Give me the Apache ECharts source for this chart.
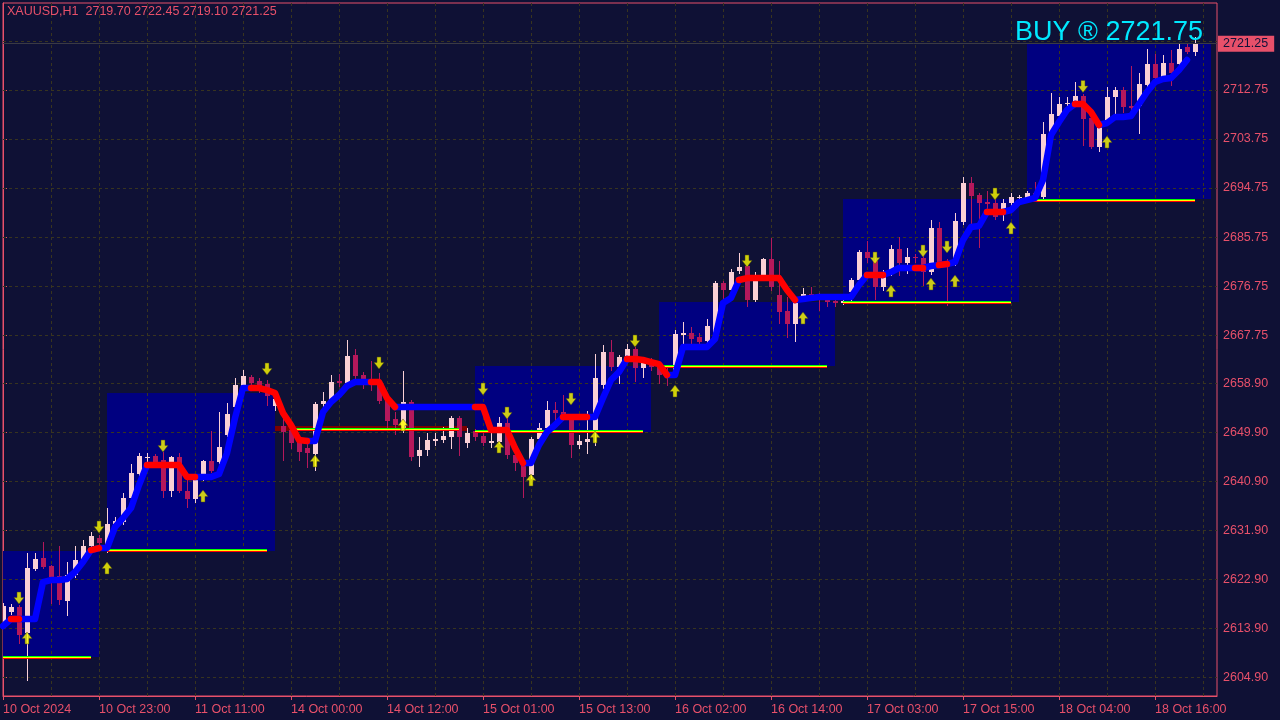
<!DOCTYPE html>
<html><head><meta charset="utf-8">
<script src="https://cdn.jsdelivr.net/npm/echarts@6.0.0/dist/echarts.min.js"></script>
<style>html,body{margin:0;padding:0;background:#0f1135;}#c{width:1280px;height:720px;}</style>
</head><body><div id="c"></div><script>
// ---- data ----
const opens = [2615.26,2616.92,2617.83,2613.06,2624.80,2626.82,2625.35,2623.53,2618.94,2623.71,2626.46,2629.03,2630.50,2628.29,2633.07,2633.43,2637.84,2642.24,2645.18,2645.55,2644.82,2639.12,2645.37,2639.12,2637.65,2641.70,2644.63,2644.45,2649.41,2654.54,2658.22,2660.06,2659.32,2658.77,2654.73,2651.06,2650.33,2648.12,2647.02,2645.92,2655.10,2655.46,2659.32,2658.96,2664.10,2660.43,2659.51,2658.59,2655.83,2652.34,2650.33,2655.46,2645.55,2646.65,2648.31,2648.49,2649.04,2652.53,2647.94,2650.14,2649.22,2647.94,2648.12,2651.61,2645.73,2644.27,2642.06,2648.67,2650.69,2654.00,2653.63,2652.71,2647.57,2648.12,2650.14,2658.59,2664.65,2661.89,2663.73,2665.20,2661.71,2663.18,2662.26,2660.98,2660.98,2667.77,2668.13,2667.40,2666.67,2667.58,2677.31,2676.03,2679.52,2680.44,2674.19,2678.60,2681.72,2675.11,2672.17,2669.79,2674.74,2675.29,2675.11,2674.19,2674.01,2673.64,2675.66,2677.87,2683.01,2681.35,2676.58,2679.15,2683.56,2680.99,2682.09,2681.91,2679.33,2687.41,2681.35,2681.17,2688.51,2695.67,2693.47,2692.18,2692.00,2690.72,2692.00,2692.92,2692.92,2693.84,2693.10,2704.48,2707.98,2710.18,2710.18,2711.65,2707.61,2702.29,2706.69,2711.46,2712.75,2709.81,2709.81,2713.67,2717.52,2715.13,2717.70,2717.52,2720.64,2719.70];
const highs = [2618.57,2618.39,2618.20,2627.74,2627.74,2629.76,2625.54,2629.03,2626.09,2629.03,2630.13,2631.60,2631.05,2636.00,2634.35,2638.75,2644.08,2646.10,2646.10,2645.92,2646.29,2645.55,2646.10,2641.15,2641.88,2644.82,2650.14,2653.63,2655.28,2659.87,2661.34,2660.43,2659.87,2659.51,2656.75,2652.53,2650.69,2649.22,2647.94,2655.46,2657.30,2660.43,2660.61,2666.85,2665.20,2660.98,2662.99,2660.79,2656.75,2653.63,2661.16,2655.83,2649.04,2649.78,2649.78,2650.88,2652.90,2652.90,2650.69,2650.51,2649.78,2649.78,2652.71,2652.71,2646.65,2644.63,2649.04,2651.61,2655.65,2655.46,2656.75,2653.08,2649.41,2653.81,2664.28,2665.93,2666.85,2664.10,2666.12,2665.56,2663.18,2663.54,2662.81,2661.71,2668.69,2670.15,2669.24,2668.13,2670.70,2677.68,2677.68,2679.88,2682.82,2680.62,2679.33,2681.91,2685.58,2681.35,2674.74,2674.56,2676.40,2676.58,2675.48,2674.56,2674.38,2674.38,2678.23,2683.37,2685.03,2681.91,2679.70,2684.29,2685.76,2683.74,2682.64,2682.27,2688.88,2688.51,2681.72,2690.17,2696.77,2696.77,2693.84,2694.20,2692.73,2692.73,2693.84,2693.47,2694.20,2695.86,2706.87,2712.20,2711.46,2711.46,2714.22,2712.01,2707.79,2706.87,2713.30,2713.30,2713.30,2717.15,2715.87,2720.27,2719.36,2719.17,2720.09,2721.38,2721.19,2722.45];
const lows = [2614.53,2616.55,2611.23,2604.43,2624.62,2624.99,2618.57,2618.39,2616.37,2623.34,2626.09,2628.66,2628.48,2627.92,2631.97,2633.07,2637.65,2641.88,2644.27,2644.27,2638.02,2638.20,2638.94,2636.19,2637.10,2641.15,2642.61,2644.27,2649.22,2654.00,2657.85,2658.41,2657.30,2654.91,2654.00,2644.82,2647.02,2644.82,2643.53,2642.98,2654.73,2655.10,2658.41,2658.59,2659.87,2658.04,2657.67,2655.28,2650.33,2649.59,2649.96,2644.82,2643.71,2645.73,2647.57,2648.12,2647.02,2645.73,2647.20,2648.49,2647.57,2647.20,2647.94,2645.18,2642.98,2638.02,2641.51,2648.31,2650.33,2652.16,2652.16,2645.37,2647.02,2646.10,2647.57,2658.04,2661.34,2658.96,2663.18,2659.32,2660.06,2661.34,2658.96,2658.59,2660.61,2665.93,2665.93,2666.12,2666.30,2667.22,2673.83,2675.66,2679.15,2673.09,2674.01,2678.23,2676.03,2669.97,2667.40,2666.67,2674.19,2674.19,2672.36,2673.09,2673.09,2673.46,2674.19,2677.50,2681.17,2674.38,2676.03,2678.78,2678.78,2679.15,2681.17,2676.95,2678.97,2680.44,2673.27,2680.62,2688.15,2687.96,2683.92,2690.35,2689.06,2688.88,2691.63,2692.55,2692.74,2692.74,2692.74,2704.30,2707.61,2709.44,2709.81,2702.65,2702.10,2701.55,2706.32,2708.34,2708.71,2709.08,2704.85,2713.48,2714.58,2714.77,2713.67,2717.15,2719.54,2719.10];
const closes = [2618.02,2617.83,2612.69,2624.99,2626.64,2625.17,2623.34,2619.12,2623.71,2626.46,2629.03,2630.87,2629.58,2633.07,2633.62,2637.84,2642.43,2645.55,2645.37,2644.45,2639.12,2645.37,2639.12,2637.65,2641.51,2644.63,2642.80,2647.20,2653.26,2658.59,2660.24,2658.96,2658.04,2656.56,2656.01,2649.96,2647.94,2646.29,2646.10,2655.10,2655.65,2659.14,2658.96,2663.92,2660.24,2658.96,2658.59,2655.65,2651.97,2651.24,2655.46,2645.37,2646.65,2648.49,2648.67,2649.22,2652.53,2649.04,2649.78,2649.04,2647.94,2648.31,2651.61,2645.73,2644.27,2641.70,2648.67,2650.69,2654.00,2653.45,2652.71,2647.57,2648.31,2648.67,2659.87,2664.65,2661.89,2663.73,2665.20,2661.71,2662.63,2661.89,2660.43,2660.06,2667.95,2668.13,2667.03,2666.48,2669.42,2677.31,2676.03,2679.33,2680.25,2674.19,2678.78,2681.72,2676.58,2671.99,2669.79,2673.83,2675.29,2674.93,2674.74,2673.83,2673.64,2674.01,2677.87,2683.01,2681.91,2676.58,2678.60,2683.56,2680.99,2682.09,2681.91,2679.33,2687.41,2680.99,2680.99,2688.70,2695.67,2693.29,2692.00,2691.82,2689.43,2692.00,2693.10,2693.10,2693.84,2693.10,2704.67,2708.34,2710.18,2710.36,2711.65,2707.42,2702.29,2705.95,2711.46,2712.75,2709.63,2709.44,2713.85,2717.52,2714.95,2717.70,2715.87,2720.27,2719.72,2721.25];
const maValues = [2614.34,2615.62,2615.62,2615.62,2615.62,2622.42,2622.79,2622.79,2622.97,2624.26,2626.09,2628.29,2628.66,2628.66,2632.52,2634.17,2636.00,2640.23,2643.90,2643.90,2643.90,2643.90,2643.90,2641.70,2641.70,2641.70,2641.70,2642.25,2646.10,2652.53,2658.04,2658.04,2658.04,2657.67,2657.12,2653.45,2651.24,2648.49,2648.31,2648.31,2653.63,2655.47,2656.75,2658.41,2659.14,2659.14,2659.14,2659.14,2656.20,2654.55,2654.55,2654.55,2654.55,2654.55,2654.55,2654.55,2654.55,2654.55,2654.55,2654.55,2654.55,2650.33,2650.33,2650.33,2647.02,2644.27,2644.27,2647.57,2649.96,2651.24,2652.71,2652.71,2652.71,2652.71,2652.71,2656.20,2659.51,2660.98,2663.36,2663.36,2663.18,2662.81,2662.44,2660.43,2660.43,2665.56,2665.56,2665.56,2665.56,2667.03,2673.64,2674.56,2677.87,2678.23,2678.23,2678.23,2678.23,2678.23,2676.03,2674.19,2674.38,2674.56,2674.74,2674.74,2674.74,2674.74,2674.74,2676.95,2678.78,2678.78,2678.78,2679.33,2680.07,2680.07,2680.07,2680.07,2680.44,2680.62,2680.80,2681.17,2685.21,2687.60,2687.78,2690.35,2690.35,2690.35,2690.72,2692.18,2692.55,2692.92,2696.22,2704.49,2706.87,2709.08,2710.18,2710.18,2708.71,2706.32,2706.69,2707.79,2707.79,2707.97,2710.18,2712.38,2714.22,2714.77,2714.95,2716.42,2718.26];
const maRedBars = [2,12,19,20,21,22,23,24,32,33,34,35,36,37,38,47,48,49,60,61,62,63,64,65,71,72,73,79,80,81,82,83,93,94,95,96,97,98,99,109,110,115,118,124,125,135,136,137];
const downArrows = [[2,2619.48],[12,2632.52],[20,2647.39],[33,2661.53],[47,2662.63],[60,2657.86],[63,2653.45],[71,2656.02],[79,2666.67],[93,2681.36],[109,2681.91],[115,2683.19],[118,2683.92],[124,2693.66],[135,2713.39]];
const upArrows = [[3,2612.14],[13,2624.99],[25,2638.21],[39,2644.64],[50,2651.26],[62,2647.20],[66,2641.15],[74,2649.04],[84,2657.49],[100,2670.89],[111,2675.85],[116,2677.13],[119,2677.68],[126,2687.41],[138,2703.20]];
// boxes: [startBar, endBar, top, bottom]
const boxes = [[0,12,2628.11,2608.65],[13,34,2657.12,2628.11],[34,58,2651.06,2650.14],[59,81,2662.08,2649.96],[82,104,2673.83,2662.08],[105,127,2692.74,2673.83],[128,151,2721.38,2692.74]];
const boxKinds = ['up','up','down','up','up','up','up'];
// level lines: [startBar, endBar, level]
const levels = [[0,11,2608.65],[13,33,2628.29],[36,57,2650.51],[59,80,2650.14],[82,103,2662.08],[105,126,2673.83],[128,149,2692.64]];
const xTickValues = [0,12,24,36,48,60,72,84,96,108,120,132,144];
const xTickLabels = ['10 Oct 2024','10 Oct 23:00','11 Oct 11:00','14 Oct 00:00','14 Oct 12:00','15 Oct 01:00','15 Oct 13:00','16 Oct 02:00','16 Oct 14:00','17 Oct 03:00','17 Oct 15:00','18 Oct 04:00','18 Oct 16:00'];
const xGridValues = [6,12,18,24,30,36,42,48,54,60,66,72,78,84,90,96,102,108,114,120,126,132,138,144,150];
const yTickValues = [2604.90,2613.90,2622.90,2631.90,2640.90,2649.90,2658.90,2667.75,2676.75,2685.75,2694.75,2703.75,2712.75];
const yGridValues = [2604.90,2613.90,2622.90,2631.90,2640.90,2649.90,2658.90,2667.75,2676.75,2685.75,2694.75,2703.75,2712.75,2721.75];
const symbolName = 'XAUUSD,H1';
const lastBar = {open:2719.70, high:2722.45, low:2719.10, close:2721.25};
const signalText = 'BUY \u00AE 2721.75';

// ---- styles ----
const BG = '#0f1135', FG = '#e8506a', GRID = '#38341f';
const BULL = '#fad0d6', BEAR = '#b5185b';
const FONT = '"Liberation Sans", Arial, sans-serif';

const candleData = opens.map((o,i)=>[i,o,closes[i],lows[i],highs[i]]);
const redSet = new Set(maRedBars);
const blueLine = [], redLine = [];
for (let i=0;i<maValues.length;i++){
  const segIn = i>0 ? (redSet.has(i)?'r':'b') : null;
  const segOut = i<maValues.length-1 ? (redSet.has(i+1)?'r':'b') : null;
  blueLine.push([i, (segIn==='b'||segOut==='b') ? maValues[i] : '-']);
  redLine.push([i, (segIn==='r'||segOut==='r') ? maValues[i] : '-']);
}

const DOWN = 'path://M3,0 L7,0 L7,5.5 L10,5.5 L5,12 L0,5.5 L3,5.5 Z';
const UP = 'path://M5,0 L10,6.5 L7,6.5 L7,12 L3,12 L3,6.5 L0,6.5 Z';

const chart = echarts.init(document.getElementById('c'), null, {renderer:'canvas'});
const option = {
  animation:false,
  backgroundColor: BG,
  textStyle:{fontFamily:FONT},
  grid:{left:3, right:63, top:3, bottom:24, show:true, borderColor:FG, borderWidth:1, backgroundColor:BG},
  xAxis:{type:'value', min:0, max:151.75, interval:6,
    axisLine:{show:true, lineStyle:{color:FG}},
    axisTick:{show:true, length:4, lineStyle:{color:FG}, customValues:xTickValues},
    axisLabel:{show:true, color:FG, fontSize:12.5, fontFamily:FONT, align:'left', margin:7, customValues:xTickValues,
      formatter:(v)=>xTickLabels[Math.round(v/12)] || ''},
    splitLine:{show:false}},
  yAxis:{type:'value', position:'right', min:2601.50, max:2728.72, scale:true,
    axisLine:{show:true, lineStyle:{color:FG}},
    axisTick:{show:true, length:4, lineStyle:{color:FG}, customValues:yTickValues},
    axisLabel:{show:true, color:FG, fontSize:12.5, fontFamily:FONT, margin:6, customValues:yTickValues,
      formatter:(v)=>v.toFixed(2)},
    splitLine:{show:false}},
  graphic:[
    {type:'text', left:7, top:5, z:100, style:{text: symbolName + '  ' + [lastBar.open,lastBar.high,lastBar.low,lastBar.close].map(v=>v.toFixed(2)).join(' '), fill:FG, font:'12.5px ' + FONT}},
    {type:'text', right:77, top:19, z:100, style:{text:signalText, fill:'#00e8ff', font:'27px ' + FONT}}
  ],
  series:[
    {type:'custom', name:'boxes', z:1, clip:true, data:boxes,
      renderItem:(params, api)=>{
        const a = api.coord([api.value(0), api.value(2)]);
        const b = api.coord([api.value(1), api.value(3)]);
        const x1 = Math.round(a[0]), x2 = Math.round(b[0]), y1 = Math.round(a[1]), y2 = Math.round(b[1]);
        const kind = boxKinds[params.dataIndex];
        return {type:'rect', shape:{x:x1, y:y1, width:x2-x1, height:Math.max(1,y2-y1)}, style:{fill: kind==='up' ? '#000080' : '#7a0000'}};
      }},
    {type:'custom', name:'hgrid', z:2, clip:true, silent:true, data:yGridValues.map(v=>[0,v]),
      renderItem:(params, api)=>{
        const p = api.coord([0, api.value(1)]);
        const cs = params.coordSys; const y = Math.round(p[1]) + 0.5;
        return {type:'line', shape:{x1:cs.x, y1:y, x2:cs.x+cs.width, y2:y}, style:{stroke:GRID, lineWidth:1, lineDash:[3,3]}};
      }},
    {type:'custom', name:'vgrid', z:2, clip:true, silent:true, data:xGridValues.map(v=>[v,2660]),
      renderItem:(params, api)=>{
        const p = api.coord([api.value(0), 2660]);
        const cs = params.coordSys; const x = Math.round(p[0]) + 0.5;
        return {type:'line', shape:{x1:x, y1:cs.y, x2:x, y2:cs.y+cs.height}, style:{stroke:GRID, lineWidth:1, lineDash:[3,3]}};
      }},
    {type:'custom', name:'candles', z:3, clip:true, data:candleData,
      renderItem:(params, api)=>{
        const x = api.value(0), o = api.value(1), c = api.value(2), l = api.value(3), h = api.value(4);
        const pO = api.coord([x,o]), pC = api.coord([x,c]), pL = api.coord([x,l]), pH = api.coord([x,h]);
        const cx = Math.round(pO[0]);
        const color = c >= o ? BULL : BEAR;
        const top = Math.round(Math.min(pO[1], pC[1])), bot = Math.round(Math.max(pO[1], pC[1]));
        return {type:'group', children:[
          {type:'line', shape:{x1:cx+0.5, y1:Math.round(pH[1]), x2:cx+0.5, y2:Math.round(pL[1])+1}, style:{stroke:color, lineWidth:1}},
          {type:'rect', shape:{x:cx-2, y:top, width:5, height:Math.max(1, bot-top)}, style:{fill:color}}
        ]};
      },
      markLine:{silent:true, symbol:['none','none'], animation:false,
        lineStyle:{color:'#3a3a44', type:'solid', width:1},
        label:{show:true, position:'end', distance:1, formatter:()=>lastBar.close.toFixed(2), color:'#10123a', backgroundColor:FG, padding:[2,6,1,5], fontSize:12.5, fontFamily:FONT},
        data:[{yAxis:lastBar.close}]}
    },
    {type:'custom', name:'levels', z:4, clip:true, data:levels,
      renderItem:(params, api)=>{
        const a = api.coord([api.value(0), api.value(2)]);
        const b = api.coord([api.value(1), api.value(2)]);
        const y = Math.round(a[1]);
        const mk = (dy, col)=>({type:'line', shape:{x1:a[0], y1:y+dy+0.5, x2:b[0], y2:y+dy+0.5}, style:{stroke:col, lineWidth:1}});
        return {type:'group', children:[mk(-1,'#00ff00'), mk(0,'#ffff00'), mk(1,'#ff0000')]};
      }},
    {type:'line', name:'maUp', z:5, data:blueLine, showSymbol:false, connectNulls:false,
      lineStyle:{color:'#0000ff', width:6.5, cap:'round', join:'round'}},
    {type:'line', name:'maDown', z:6, data:redLine, showSymbol:false, connectNulls:false,
      lineStyle:{color:'#ff0000', width:6.5, cap:'round', join:'round'}},
    {type:'scatter', name:'sell', z:7, data:downArrows, symbol:DOWN, symbolSize:[10,12],
      itemStyle:{color:'#ffff00', borderColor:'#4a4a10', borderWidth:0.6}},
    {type:'scatter', name:'buy', z:7, data:upArrows, symbol:UP, symbolSize:[10,12],
      itemStyle:{color:'#ffff00', borderColor:'#4a4a10', borderWidth:0.6}}
  ]
};
chart.setOption(option);
</script></body></html>
